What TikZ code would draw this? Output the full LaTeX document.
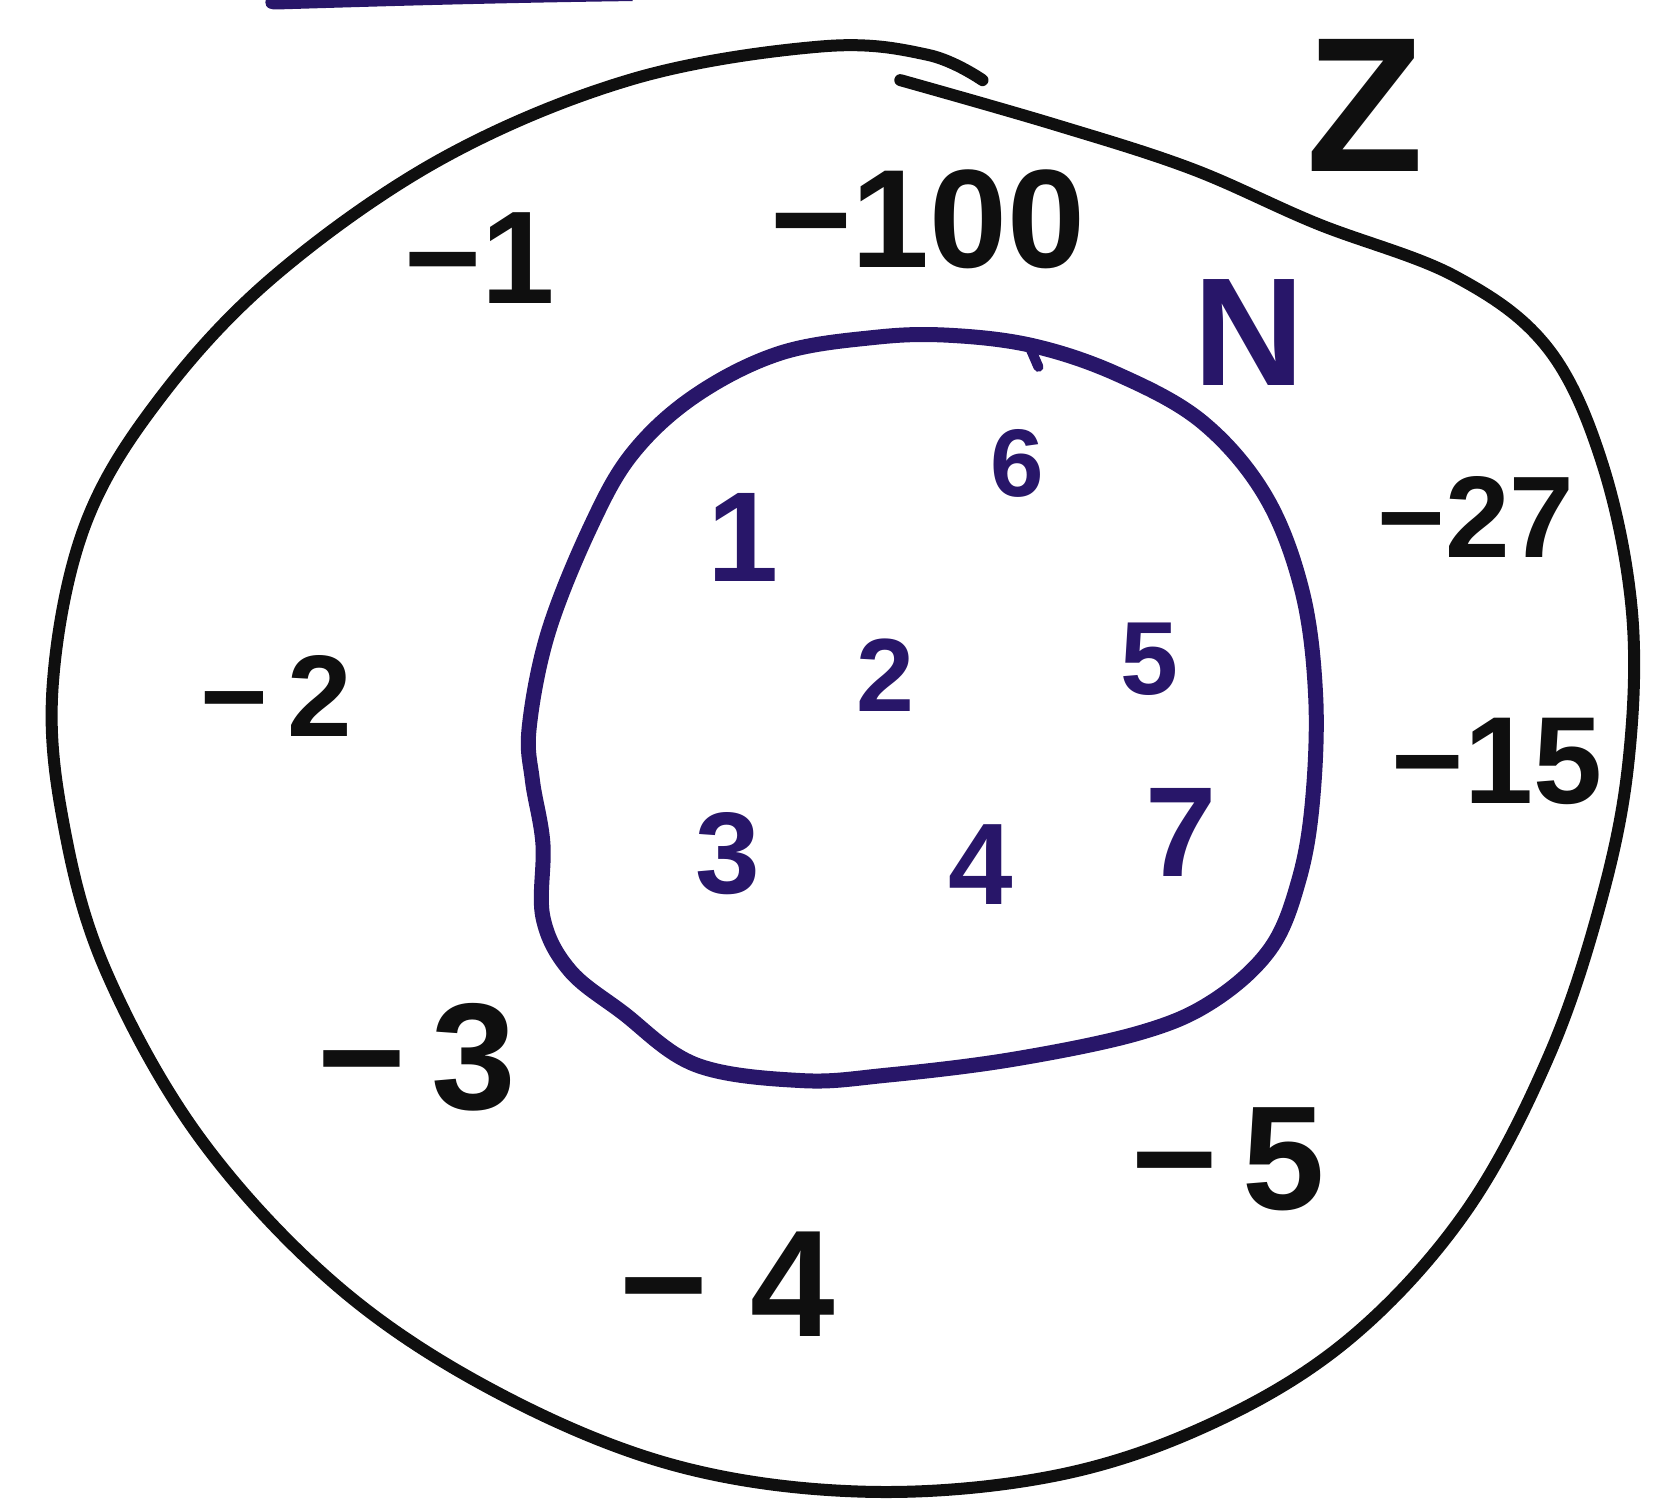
\documentclass[tikz,border=0pt]{standalone}
\usepackage{fontspec}
\setmainfont{Liberation Sans}
\definecolor{ink}{RGB}{15,15,15}
\definecolor{navy}{RGB}{40,22,105}
\tikzset{
  outerline/.style={draw=ink,line width=6pt,line cap=round,line join=round},
  innerline/.style={draw=navy,line width=7.5pt,line cap=round,line join=round},
  blk/.style={text=ink,inner sep=0pt,anchor=center,font=\bfseries},
  blu/.style={text=navy,inner sep=0pt,anchor=center},
}
\newcommand{\fs}[1]{\fontsize{#1}{#1}\selectfont\bfseries}
\begin{document}
\begin{tikzpicture}[x=0.527pt,y=-0.527pt]
\useasboundingbox (0,0) rectangle (1568,1429);
\clip (0,0) rectangle (1568,1429);
% cut-off blue stroke at top
\fill[navy] (253,-2) -- (600,-2) -- (600,1) .. controls (450,3) and (330,7) .. (262,9) .. controls (252,9) and (250,4) .. (253,-2) -- cycle;
% outer set Z
\draw[outerline] plot[smooth,tension=0.6] coordinates {
 (854,76) (1000,118) (1130,160) (1249,212) (1380,262) (1468,330) (1520,440)
 (1548,580) (1545,720) (1520,850) (1470,1000) (1390,1150) (1280,1270)
 (1150,1350) (1000,1400) (820,1415) (640,1390) (470,1320) (320,1220)
 (190,1080) (100,920) (60,780) (50,650) (80,500) (150,380) (260,262)
 (420,150) (600,75) (780,44) (880,52) (932,76)};
% inner set N
\draw[innerline] plot[smooth cycle,tension=0.6] coordinates {
 (830,320) (900,318) (980,328) (1060,355) (1140,400) (1200,470) (1235,560)
 (1248,660) (1245,760) (1232,835) (1205,900) (1150,950) (1080,980)
 (960,1005) (840,1020) (760,1025) (660,1010) (590,960) (540,920)
 (515,870) (515,800) (505,740) (502,690) (520,600) (560,500) (600,430)
 (660,375) (740,335)};
\draw[navy,line width=5pt,line cap=round] (975,325) -- (985,348);
% labels of Z
\node[blk,font=\fs{96}] (z) at (1295,100) {Z};
\node[blk,font=\fs{66}] (m1) at (455,245) {−1};
\node[blk,font=\fs{70}] (m100) at (880,208) {−100};
\node[blk,font=\fs{58}] (m27) at (1400,490) {−27};
\node[blk,font=\fs{62}] (m15) at (1420,722) {−15};
\node[blk,font=\fs{58}] (m2) at (262,660) {−\,2};
\node[blk,font=\fs{76}] (m3) at (395,1003) {−\,3};
\node[blk,font=\fs{76}] (m4) at (690,1218) {−\;4};
\node[blk,font=\fs{74}] (m5) at (1165,1100) {−\,5};
% labels of N
\node[blu,font=\fs{77}] (n) at (1185,315) {N};
\node[blu,font=\fs{48}] (d6) at (965,440) {6};
\node[blu,font=\fs{64}] (d1) at (705,510) {1};
\node[blu,font=\fs{52}] (d2) at (840,640) {2};
\node[blu,font=\fs{52}] (d5) at (1090,625) {5};
\node[blu,font=\fs{58}] (d3) at (690,810) {3};
\node[blu,font=\fs{58}] (d4) at (930,820) {4};
\node[blu,font=\fs{64}] (d7) at (1120,790) {7};
\end{tikzpicture}
\end{document}
